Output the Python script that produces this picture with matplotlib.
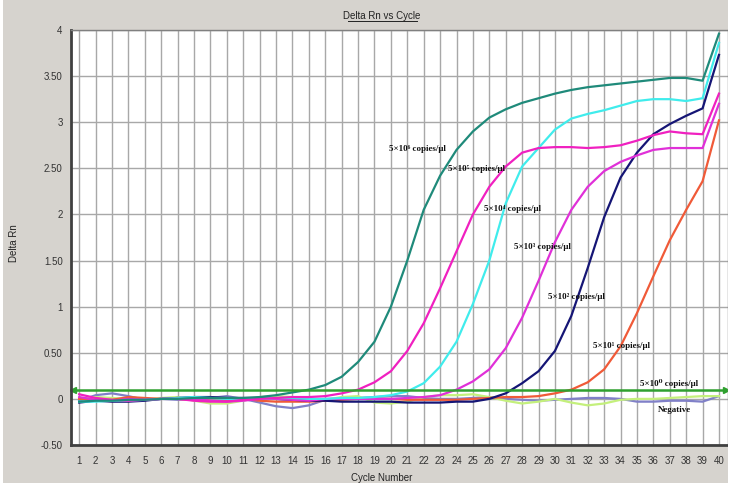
import matplotlib
matplotlib.use("Agg")
import matplotlib.pyplot as plt
from matplotlib.patches import Rectangle
from matplotlib.lines import Line2D
import numpy as np

cycles = list(range(1, 41))

teal_1e6 = [-0.03,-0.02,-0.02,-0.01,-0.01,0.0,0.0,0.01,0.01,0.01,0.01,0.02,0.04,0.07,0.10,0.15,0.24,0.40,0.62,1.00,
            1.50,2.05,2.42,2.70,2.90,3.05,3.14,3.21,3.26,3.31,3.35,3.38,3.40,3.42,3.44,3.46,3.48,3.48,3.45,3.96]
magenta_1e5 = [0.05,0.01,-0.01,-0.02,-0.01,0.0,0.0,-0.02,-0.03,-0.03,-0.01,0.0,0.01,0.02,0.02,0.03,0.06,0.10,0.18,0.30,
               0.52,0.82,1.20,1.60,2.00,2.30,2.52,2.67,2.72,2.73,2.73,2.72,2.73,2.75,2.80,2.86,2.90,2.88,2.87,3.31]
cyan_1e4 = [-0.03,-0.03,-0.02,-0.02,-0.01,0.0,0.01,0.02,0.01,0.0,0.0,0.0,0.01,0.01,0.0,0.0,0.01,0.01,0.02,0.04,
            0.08,0.17,0.35,0.62,1.03,1.50,2.12,2.52,2.72,2.92,3.04,3.09,3.13,3.18,3.23,3.25,3.25,3.23,3.26,3.86]
magenta_1e3 = [0.02,-0.01,-0.02,0.0,-0.01,0.0,0.0,0.0,-0.02,-0.03,-0.02,0.0,0.0,-0.01,-0.02,0.0,0.0,0.0,0.0,0.0,
               0.01,0.02,0.04,0.10,0.19,0.32,0.55,0.88,1.28,1.70,2.05,2.30,2.47,2.57,2.64,2.70,2.72,2.72,2.72,3.20]
navy_1e2 = [-0.04,-0.02,-0.03,-0.03,-0.02,0.0,0.01,0.02,0.02,0.01,0.01,0.01,0.0,-0.01,-0.02,-0.02,-0.03,-0.03,-0.03,-0.03,
            -0.04,-0.04,-0.04,-0.03,-0.03,0.0,0.06,0.17,0.30,0.52,0.90,1.42,1.97,2.40,2.67,2.87,2.98,3.07,3.15,3.73]
red_1e1 = [0.0,-0.01,-0.01,0.02,0.01,0.0,0.0,-0.01,-0.02,-0.02,0.0,-0.02,-0.03,-0.03,-0.03,-0.02,-0.01,0.0,0.0,0.0,
           -0.01,-0.01,-0.01,-0.01,0.0,0.01,0.02,0.02,0.03,0.06,0.10,0.18,0.32,0.57,0.93,1.33,1.72,2.05,2.36,3.02]
green_1e0 = [0.0,0.02,0.01,0.0,-0.01,0.01,0.02,-0.02,-0.05,-0.05,-0.02,0.02,0.03,0.02,0.0,-0.01,0.02,0.03,-0.04,-0.05,
             -0.03,0.02,0.04,0.04,0.05,0.02,-0.02,-0.05,-0.03,0.0,-0.04,-0.07,-0.05,-0.01,0.0,0.0,0.01,0.02,0.03,0.03]
negative = [-0.02,0.04,0.06,0.03,-0.01,0.0,-0.01,0.0,0.01,0.03,0.0,-0.04,-0.08,-0.10,-0.07,-0.01,0.0,0.01,0.02,0.03,
            0.03,0.01,0.0,0.0,0.01,0.02,0.0,-0.01,-0.02,-0.01,0.0,0.01,0.01,0.0,-0.03,-0.03,-0.02,-0.02,-0.03,0.03]
threshold = 0.1

y_ticks = [-0.5, 0, 0.5, 1, 1.5, 2, 2.5, 3, 3.5, 4]
y_tick_labels = ["-0.50", "0", "0.50", "1", "1.50", "2", "2.50", "3", "3.50", "4"]

labels = ["5×10⁶ copies/μl", "5×10⁵ copies/μl", "5×10⁴ copies/μl", "5×10³ copies/μl",
          "5×10² copies/μl", "5×10¹ copies/μl", "5×10⁰ copies/μl", "Negative"]
label_x = [19.9, 23.5, 25.7, 27.5, 29.6, 32.3, 35.2, 36.3]
label_y = [2.71, 2.49, 2.06, 1.65, 1.10, 0.57, 0.17, -0.12]

GRAY = "#d6d3ce"
fig = plt.figure(figsize=(7.53, 4.88), dpi=100, facecolor=GRAY)
# white margins around the gray panel
for (x0, y0, w, h) in [(728/753, 0, 1, 1), (0, 0, 1, 5/488), (0, 0, 3/753, 1)]:
    fig.patches.append(Rectangle((x0, y0), w, h, transform=fig.transFigure,
                                 facecolor="white", edgecolor="none", zorder=0))

ax = fig.add_axes([71/753, 1 - 445/488, (728-71)/753, (445-30)/488])
ax.set_facecolor("white")
ax.set_xlim(0.5, 40.55)
ax.set_ylim(-0.5, 4.0)

ax.set_xticks(cycles)
ax.set_xticklabels([str(c) for c in cycles])
ax.set_yticks(y_ticks)
ax.set_yticklabels(y_tick_labels)
ax.tick_params(axis="both", length=0, labelsize=7, colors="#333333", labelfontfamily="Liberation Sans")
ax.tick_params(axis="x", pad=8)
ax.tick_params(axis="y", pad=6)
ax.grid(True, color="#a8a8a8", linewidth=1.0)
ax.set_axisbelow(True)

for s in ["left", "bottom"]:
    ax.spines[s].set_color("#404040")
    ax.spines[s].set_linewidth(2.0)
for s in ["right", "top"]:
    ax.spines[s].set_color("#808080")
    ax.spines[s].set_linewidth(1.0)

lw = 1.6
ax.plot(cycles, negative, color="#8080c8", lw=lw)
ax.plot(cycles, green_1e0, color="#c4f07c", lw=lw)
ax.plot(cycles, red_1e1, color="#f05a38", lw=lw)
ax.plot(cycles, navy_1e2, color="#151575", lw=lw)
ax.plot(cycles, magenta_1e3, color="#e030d8", lw=lw)
ax.plot(cycles, cyan_1e4, color="#40ecec", lw=lw)
ax.plot(cycles, magenta_1e5, color="#f020c0", lw=lw)
ax.plot(cycles, teal_1e6, color="#1f8a7a", lw=lw)

ax.plot([0.5, 40.55], [threshold, threshold], color="#2fa02f", lw=1.8, clip_on=False)
ax.plot([0.62], [threshold], marker="<", color="#2fa02f", markersize=4, clip_on=False)
ax.plot([40.45], [threshold], marker=">", color="#2fa02f", markersize=4, clip_on=False)

for t, x, y in zip(labels, label_x, label_y):
    ax.text(x, y, t, fontsize=6.5, fontweight="bold", family=["Liberation Serif", "DejaVu Serif"],
            ha="left", va="center", color="#111111")

fig.text(382/753, 1 - 16/488, "Delta Rn vs Cycle", ha="center", va="center", fontsize=7,
         family="Liberation Sans", color="#222222")
fig.add_artist(Line2D([348/753, 417/753], [1 - 21/488, 1 - 21/488], transform=fig.transFigure,
                      color="#222222", lw=0.7))
fig.text(14/753, 1 - 243/488, "Delta Rn", rotation=90, ha="center", va="center", fontsize=7,
         family="Liberation Sans", color="#222222")
fig.text(382/753, 1 - 478/488, "Cycle Number", ha="center", va="center", fontsize=7,
         family="Liberation Sans", color="#222222")

fig.savefig("out.png", dpi=100, facecolor=GRAY)
